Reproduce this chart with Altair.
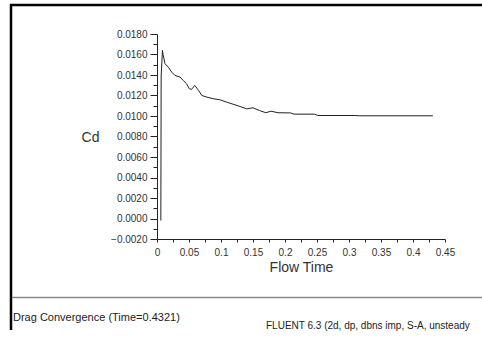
import altair as alt
import pandas as pd

# Drag coefficient history
flow_time = [0.0060, 0.0065, 0.0085, 0.0095, 0.0125, 0.0177, 0.0230, 0.0280, 0.0360,
             0.0410, 0.0460, 0.0505, 0.0540, 0.0590, 0.0650, 0.0700, 0.0780, 0.0880,
             0.0980, 0.1090, 0.1250, 0.1400, 0.1500, 0.1600, 0.1700, 0.1780, 0.1890,
             0.2090, 0.2140, 0.2460, 0.2510, 0.3080, 0.3160, 0.4310]
cd = [-0.0002, 0.0139, 0.0164, 0.0160, 0.0151, 0.01477, 0.01428, 0.01396, 0.0138,
      0.01347, 0.01315, 0.01266, 0.0126, 0.01298, 0.0125, 0.0120, 0.01184, 0.01168,
      0.01159, 0.01135, 0.01103, 0.0107, 0.0108, 0.01054, 0.01032, 0.01047, 0.01032,
      0.01030, 0.01018, 0.01018, 0.01005, 0.01005, 0.01002, 0.01002]

y_ticks = [round(-0.002 + 0.001 * i, 3) for i in range(21)]
x_ticks = [round(0.025 * i, 3) for i in range(19)]

footer_left = ["Drag Convergence  (Time=0.4321)"]
footer_right = ["FLUENT 6.3 (2d, dp, dbns imp, S-A, unsteady"]

FONT = "Liberation Sans"
W, H = 288, 205

df = pd.DataFrame({"t": flow_time, "cd": cd, "i": list(range(len(cd)))})

line = alt.Chart(df).mark_line(color="#222222", strokeWidth=1.0).encode(
    x=alt.X("t:Q",
            scale=alt.Scale(domain=[0, 0.45], nice=False, zero=False),
            axis=alt.Axis(values=x_ticks,
                          labelExpr="round(datum.value*1000) % 50 == 0 ? format(datum.value, '~g') : ''",
                          title="Flow Time", titleFont=FONT, titleFontSize=14,
                          titleFontWeight="normal", titleColor="#333333",
                          titleBaseline="middle", titleY=28,
                          labelFont=FONT, labelFontSize=10, labelColor="#333333",
                          labelPadding=5, tickSize=3, tickColor="#222222",
                          domainColor="#222222", grid=False, labelFlush=False,
                          labelOverlap=False)),
    y=alt.Y("cd:Q",
            scale=alt.Scale(domain=[-0.002, 0.018], nice=False, zero=False),
            axis=alt.Axis(values=y_ticks,
                          labelExpr="round(datum.value*1000) % 2 == 0 ? format(datum.value, '.4f') : ''",
                          tickSize={"condition": {"test": "round(datum.value*1000) % 2 == 0", "value": 7}, "value": 4},
                          title="Cd", titleAngle=0, titleAlign="center",
                          titleBaseline="middle", titleX=-67, titleY=103,
                          titleFont=FONT, titleFontSize=14, titleFontWeight="normal",
                          titleColor="#333333",
                          labelFont=FONT, labelFontSize=10, labelColor="#333333",
                          labelPadding=3, tickColor="#222222", domainColor="#222222",
                          grid=False, labelOverlap=False, labelFlush=False)),
    order="i:Q",
)

one = pd.DataFrame({"k": [0]})

frame_top = alt.Chart(one).mark_rule(color="black", strokeWidth=2.5).encode(
    x=alt.value(-147), x2=alt.value(325), y=alt.value(-29))
frame_left = alt.Chart(one).mark_rule(color="black", strokeWidth=2.5).encode(
    x=alt.value(-146), y=alt.value(-30), y2=alt.value(296))

sep = alt.Chart(one).mark_rule(color="#888888", strokeWidth=1.5).encode(
    x=alt.value(-145), x2=alt.value(325), y=alt.value(263.5))

txt_left = alt.Chart(pd.DataFrame({"s": footer_left})).mark_text(
    align="left", baseline="middle", font=FONT, fontSize=11, color="#222222"
).encode(text="s:N", x=alt.value(-144), y=alt.value(284))

txt_right = alt.Chart(pd.DataFrame({"s": footer_right})).mark_text(
    align="left", baseline="middle", font=FONT, fontSize=10, color="#222222"
).encode(text="s:N", x=alt.value(109), y=alt.value(292))

chart = alt.layer(line, frame_top, frame_left, sep, txt_left, txt_right).properties(
    width=W, height=H,
    autosize=alt.AutoSizeParams(type="none"),
    padding={"left": 157, "top": 34, "right": 37, "bottom": 92},
    background="white",
).configure_view(stroke=None)

chart.save("out.html", embed_options={"renderer": "svg", "actions": False})
